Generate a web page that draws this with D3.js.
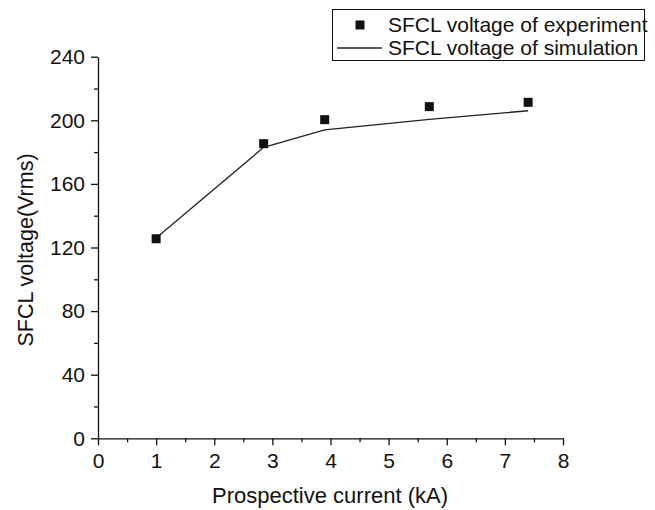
<!DOCTYPE html>
<html><head><meta charset="utf-8">
<script src="https://cdn.jsdelivr.net/npm/d3@7"></script>
<style>body{margin:0;background:#fff}svg{display:block}text{font-family:"Liberation Sans",Arial,sans-serif;fill:#111}</style>
</head><body>
<script>
const expX = [1, 2.85, 3.9, 5.7, 7.4];
const expY = [125.5, 185.3, 200.4, 208.6, 211.3];
const simX = [1, 2.85, 3.9, 5.7, 7.4];
const simY = [126, 183, 194, 200.6, 206];
const xTicks = [0,1,2,3,4,5,6,7,8];
const yTicks = [0,40,80,120,160,200,240];
const legendLabels = ["SFCL voltage of experiment","SFCL voltage of simulation"];

const W=655,H=510;
const svg=d3.select("body").append("svg").attr("width",W).attr("height",H);
const x=d3.scaleLinear().domain([0,8]).range([98,563]);
const y=d3.scaleLinear().domain([0,240]).range([438.3,56.7]);
const fs=21;

// minor ticks
const g=svg.append("g");
const xMinor=d3.range(0.5,8,1), yMinor=d3.range(20,240,40);
g.append("g").attr("transform","translate(0,438.3)")
 .call(d3.axisBottom(x).tickValues(xMinor).tickSize(4).tickFormat(""))
 .call(a=>a.select(".domain").remove());
g.append("g").attr("transform","translate(98,0)")
 .call(d3.axisLeft(y).tickValues(yMinor).tickSize(4).tickFormat(""))
 .call(a=>a.select(".domain").remove());

const xa=svg.append("g").attr("transform","translate(0,438.3)")
 .call(d3.axisBottom(x).tickValues(xTicks).tickSize(7).tickSizeOuter(0).tickPadding(8).tickFormat(d3.format("d")));
const ya=svg.append("g").attr("transform","translate(98,0)")
 .call(d3.axisLeft(y).tickValues(yTicks).tickSize(7).tickSizeOuter(0).tickPadding(6).tickFormat(d3.format("d")));
[xa,ya].forEach(a=>{a.selectAll("text").style("font-size",fs+"px").style("font-family","'Liberation Sans',Arial,sans-serif").attr("fill","#111");
 a.selectAll("line,path").attr("stroke","#111").attr("stroke-width",1.3);});
svg.selectAll(".tick line").attr("stroke","#111").attr("stroke-width",1.3);
xa.selectAll("text").attr("dy","0.71em");

// axis titles
svg.append("text").attr("x",330).attr("y",503).attr("text-anchor","middle").style("font-size","22px").text("Prospective current (kA)");
svg.append("text").attr("transform","translate(33,250) rotate(-90)").attr("text-anchor","middle").style("font-size","21.5px").text("SFCL voltage(Vrms)");

// simulation line
const sim=simX.map((d,i)=>[d,simY[i]]);
svg.append("path").datum(sim).attr("fill","none").attr("stroke","#222").attr("stroke-width",1.3)
 .attr("d",d3.line().x(d=>x(d[0])).y(d=>y(d[1])));

// experiment markers
const ms=9;
svg.selectAll("rect.m").data(expX.map((d,i)=>[d,expY[i]])).enter().append("rect")
 .attr("x",d=>x(d[0])-ms/2).attr("y",d=>y(d[1])-ms/2).attr("width",ms).attr("height",ms).attr("fill","#111");

// legend
const lg=svg.append("g");
lg.append("rect").attr("x",332.5).attr("y",9.5).attr("width",312).attr("height",51).attr("fill","#fff").attr("stroke","#111").attr("stroke-width",1);
lg.append("rect").attr("x",360-ms/2).attr("y",25-ms/2).attr("width",ms).attr("height",ms).attr("fill","#111");
lg.append("line").attr("x1",337).attr("x2",382).attr("y1",48).attr("y2",48).attr("stroke","#222").attr("stroke-width",1.3);
lg.selectAll("text.l").data(legendLabels).enter().append("text").attr("x",388).attr("y",(d,i)=>32+i*23).style("font-size",fs+"px").text(d=>d);
</script>
</body></html>
